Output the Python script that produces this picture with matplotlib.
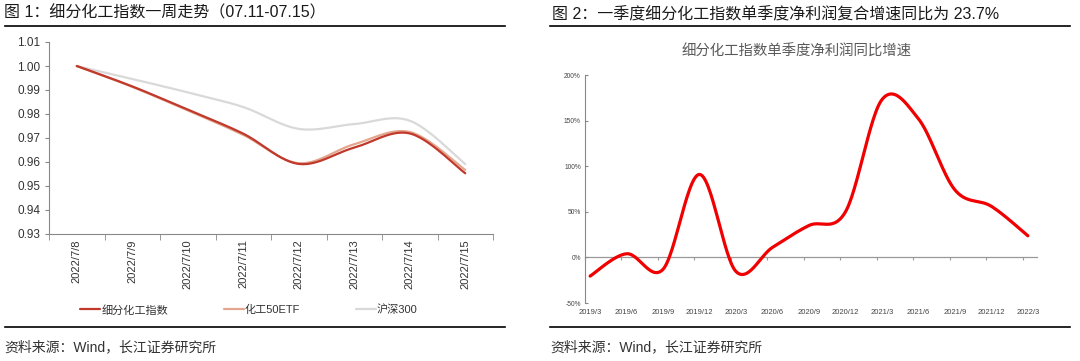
import numpy as np
import matplotlib
matplotlib.use("Agg")
import matplotlib.pyplot as plt
from matplotlib.lines import Line2D

plt.rcParams['font.family'] = ['Liberation Sans', 'Noto Sans CJK SC', 'DejaVu Sans']

# ---------------- data ----------------
dates = ["2022/7/8", "2022/7/9", "2022/7/10", "2022/7/11", "2022/7/12", "2022/7/13", "2022/7/14", "2022/7/15"]
chem_index = [1.000, 0.9915, 0.9818, 0.9718, 0.9592, 0.9660, 0.9719, 0.9553]
chem_etf = [1.000, 0.9913, 0.9815, 0.9713, 0.9595, 0.9674, 0.9725, 0.9567]
hs300 = [1.000, 0.9946, 0.9890, 0.9829, 0.9738, 0.9758, 0.9772, 0.9591]
left_series_names = ["细分化工指数", "化工50ETF", "沪深300"]

quarters = ["2019/3", "2019/6", "2019/9", "2019/12", "2020/3", "2020/6", "2020/9",
            "2020/12", "2021/3", "2021/6", "2021/9", "2021/12", "2022/3"]
profit_growth = [-20.5, 4.0, -13.0, 91.0, -15.5, 11.0, 35.0, 50.0, 173.0, 152.0, 74.0, 56.0, 23.7]


def smooth(y, n=30):
    """Catmull-Rom (Excel-style smoothed line) through the given points."""
    y = np.asarray(y, float)
    x = np.arange(len(y), dtype=float)
    P = np.column_stack([x, y])
    P = np.vstack([P[0], P, P[-1]])
    out = []
    t = np.linspace(0, 1, n)[:, None]
    for i in range(1, len(P) - 2):
        p0, p1, p2, p3 = P[i - 1], P[i], P[i + 1], P[i + 2]
        c1 = p1 + (p2 - p0) / 6.0
        c2 = p2 - (p3 - p1) / 6.0
        seg = ((1 - t) ** 3) * p1 + 3 * ((1 - t) ** 2) * t * c1 + 3 * (1 - t) * t ** 2 * c2 + t ** 3 * p2
        out.append(seg if i == 1 else seg[1:])
    out = np.vstack(out)
    return out[:, 0], out[:, 1]


W, H = 1080, 361
fig = plt.figure(figsize=(W / 100, H / 100), dpi=100)


def fx(px):
    return px / W


def fy(py):
    return 1 - py / H


# ---------------- header / footer ----------------
fig.text(fx(4), fy(13), "图 1：细分化工指数一周走势（07.11-07.15）", fontsize=11.5, va='center', ha='left', color='#1a1a1a')
fig.text(fx(552), fy(15), "图 2：一季度细分化工指数单季度净利润复合增速同比为 23.7%", fontsize=11.5, va='center', ha='left', color='#1a1a1a')
for (x0, x1) in [(5, 505), (550, 1070)]:
    fig.add_artist(Line2D([fx(x0), fx(x1)], [fy(26), fy(26)], color='black', lw=1.2))
    fig.add_artist(Line2D([fx(x0), fx(x1)], [fy(327), fy(327)], color='black', lw=1.2))
fig.text(fx(4), fy(347), "资料来源：Wind，长江证券研究所", fontsize=10, va='center', ha='left', color='#333333')
fig.text(fx(550), fy(347), "资料来源：Wind，长江证券研究所", fontsize=10, va='center', ha='left', color='#333333')

# ---------------- left chart ----------------
ax1 = fig.add_axes([fx(49), fy(234), fx(493) - fx(49), fy(42) - fy(234)])
colors_left = ['#C0392B', '#E3A68E', '#D9D9D9']
order = [2, 1, 0]
all_series = [chem_index, chem_etf, hs300]
handles = [None] * 3
for k in order:
    xs, ys = smooth(all_series[k])
    h, = ax1.plot(xs, ys, color=colors_left[k], lw=1.6, solid_capstyle='round')
    handles[k] = h
ax1.set_xlim(-0.5, len(dates) - 0.5)
ax1.set_ylim(0.93, 1.01)
ax1.set_yticks(np.arange(0.93, 1.0101, 0.01))
ax1.set_yticklabels([f"{v:.2f}" for v in np.arange(0.93, 1.0101, 0.01)])
ax1.set_xticks(np.arange(len(dates)))
ax1.set_xticklabels(dates, rotation=90)
ax1.set_xticks(np.arange(-0.5, len(dates)), minor=True)
ax1.tick_params(axis='x', which='major', length=0, labelsize=8, pad=4, colors='#333333')
ax1.tick_params(axis='x', which='minor', length=4, color='#888888', direction='out')
ax1.tick_params(axis='y', length=3, labelsize=8.5, colors='#333333', pad=3)
ax1.tick_params(axis='y', color='#888888')
for s in ['top', 'right']:
    ax1.spines[s].set_visible(False)
for s in ['left', 'bottom']:
    ax1.spines[s].set_color('#888888')
    ax1.spines[s].set_linewidth(0.8)

leg = fig.legend([handles[0], handles[1], handles[2]], left_series_names, loc='center',
                 bbox_to_anchor=(fx(249), fy(310)), ncol=3, frameon=False, fontsize=8,
                 handlelength=1.8, handletextpad=0.1, columnspacing=5.0)
for t in leg.get_texts():
    t.set_color('#333333')

# ---------------- right chart ----------------
fig.text(fx(797), fy(52), "细分化工指数单季度净利润同比增速", fontsize=10.4, ha='center', va='center', color='#595959')
ax2 = fig.add_axes([fx(585), fy(303), fx(1037) - fx(585), fy(75) - fy(303)])
xs, ys = smooth(profit_growth)
ax2.plot(xs, ys, color='#F00000', lw=2.3, solid_capstyle='round', zorder=3)
ax2.set_xlim(-0.14, 12.25)
ax2.set_ylim(-50, 200)
ax2.set_yticks(np.arange(-50, 201, 50))
ax2.set_yticklabels([f"{v:d}%" for v in range(-50, 201, 50)])
ax2.set_xticks(np.arange(len(quarters)))
ax2.set_xticklabels(quarters)
ax2.tick_params(axis='x', length=0, labelsize=5.5, colors='#444444', pad=4)
ax2.tick_params(axis='y', length=2, direction='in', color='#888888', labelsize=4.8, labelcolor='#444444', pad=3)
for s in ['top', 'right', 'bottom']:
    ax2.spines[s].set_visible(False)
ax2.spines['left'].set_color('#888888')
ax2.spines['left'].set_linewidth(0.8)
sec = ax2.secondary_xaxis(0, transform=ax2.transData)
sec.set_xticks(np.arange(-0.14, 12.3, 1.0))
sec.tick_params(axis='x', length=2.5, direction='out', color='#999999', labelbottom=False)
sec.spines['bottom'].set_color('#999999')
sec.spines['bottom'].set_linewidth(0.9)

fig.savefig("out.png", dpi=100)
